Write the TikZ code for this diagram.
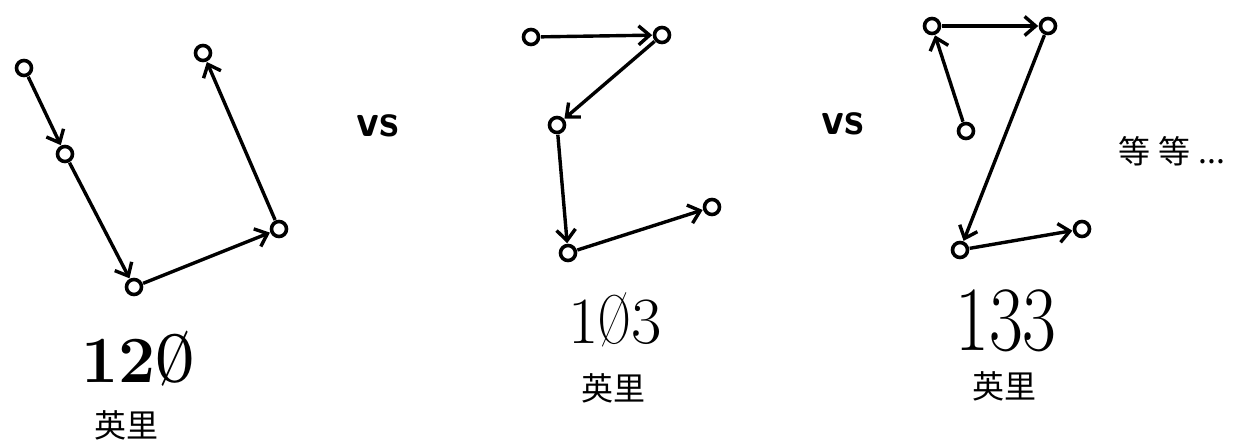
\documentclass[tikz,border=0pt]{standalone}
\usepackage{fontspec}
\newfontfamily\cjk{Noto Sans CJK SC}
\usetikzlibrary{arrows.meta}
\newcommand{\szero}{\scalebox{0.68}[1.05]{Ø}}
\tikzset{
  pt/.style={circle,draw,line width=3.6pt,minimum size=15pt,inner sep=0pt},
  leg/.style={line width=3.4pt,-{Straight Barb[length=11pt,width=19pt,line width=3.4pt]},shorten >=0.5pt,shorten <=0.5pt},
  num/.style={inner sep=0pt,anchor=base},
  unit/.style={font=\cjk\fontsize{32}{32}\selectfont,inner sep=0pt},
  vs/.style={font=\sffamily\bfseries\fontsize{46}{46}\selectfont,inner sep=0pt}
}
\begin{document}
\begin{tikzpicture}[x=1pt,y=-1pt]
\useasboundingbox (0,0) rectangle (1247,441);
% left route
\node[pt] (a1) at (24,68) {};
\node[pt] (a2) at (65,154) {};
\node[pt] (a3) at (134,287) {};
\node[pt] (a4) at (279,229) {};
\node[pt] (a5) at (203,53) {};
\draw[leg] (a1) -- (a2);
\draw[leg] (a2) -- (a3);
\draw[leg] (a3) -- (a4);
\draw[leg] (a4) -- (a5);
\node[num,font=\bfseries\fontsize{66}{66}\selectfont] (n1) at (138,382) {12\szero};
\node[unit] (u1) at (126,425) {英里};
% vs
\node[vs] (vs1) at (378,126) {vs};
% middle route
\node[pt] (b1) at (531,37) {};
\node[pt] (b2) at (662,35) {};
\node[pt] (b3) at (557,125) {};
\node[pt] (b4) at (568,253) {};
\node[pt] (b5) at (712,207) {};
\draw[leg] (b1) -- (b2);
\draw[leg] (b2) -- (b3);
\draw[leg] (b3) -- (b4);
\draw[leg] (b4) -- (b5);
\node[num,font=\fontsize{66}{66}\selectfont] (n2) at (615,343) {1\szero3};
\node[unit] (u2) at (613,388) {英里};
% vs
\node[vs] (vs2) at (843,124) {vs};
% right route
\node[pt] (c1) at (966,131) {};
\node[pt] (c2) at (932,26) {};
\node[pt] (c3) at (1048,26) {};
\node[pt] (c4) at (960,250) {};
\node[pt] (c5) at (1082,229) {};
\draw[leg] (c1) -- (c2);
\draw[leg] (c2) -- (c3);
\draw[leg] (c3) -- (c4);
\draw[leg] (c4) -- (c5);
\node[num,font=\fontsize{92}{92}\selectfont,xscale=0.8] (n3) at (1006,350) {133};
\node[unit] (u3) at (1004,386) {英里};
\node[unit,font=\cjk\fontsize{32}{32}\selectfont,anchor=west] (etc) at (1118,151) {等\hspace{8pt}等\hspace{8pt}...};
\end{tikzpicture}
\end{document}
